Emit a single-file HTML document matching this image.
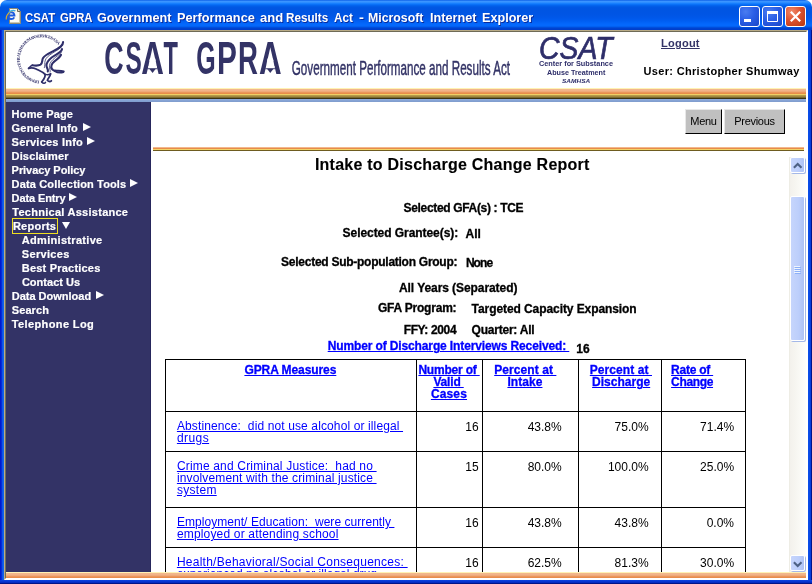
<!DOCTYPE html>
<html lang="en">
<head>
<meta charset="utf-8">
<title>CSAT GPRA Government Performance and Results Act - Microsoft Internet Explorer</title>
<style>
html,body{margin:0;padding:0;}
body{width:812px;height:584px;overflow:hidden;background:#0046e0;font-family:"Liberation Sans",sans-serif;}
#win{position:absolute;left:0;top:0;width:812px;height:584px;overflow:hidden;
  background:#0a4fe6;}
.abs{position:absolute;}
/* ---------- window frame ---------- */
#titlebar{left:0;top:0;width:812px;height:30px;border-radius:7px 7px 0 0;
  background:linear-gradient(to bottom,#0050e0 0,#3a94ff 1px,#3a94ff 2px,#1f86ff 3px,#0f78fc 4px,#0468f2 5px,#0260ea 6px,#0058e4 7px,#0055e2 9px,#0055e4 14px,#0058ea 18px,#005ef2 21px,#0468fc 24px,#0468fc 26px,#0058e6 27px,#0044d2 28px,#003cc8 30px);}
#frameL{left:0;top:30px;width:4px;height:554px;background:linear-gradient(to right,#0019cf 0,#0019cf 1px,#0a3fe0 2px,#1468ee 3px,#0f5be6 4px);}
#frameR{left:808px;top:30px;width:4px;height:554px;background:linear-gradient(to right,#0a50ea 0,#0848e4 1.5px,#053ad6 3px,#00148c 3px,#00148c 4px);}
#frameB{z-index:2;left:0;top:580px;width:812px;height:4px;background:linear-gradient(to bottom,#0a44e2 0,#0636d2 1.5px,#0326ba 3px,#001488 3px,#001488 4px);}
#cornerL{left:0;top:0;width:8px;height:8px;background:#fff;}
#cornerR{left:804px;top:0;width:8px;height:8px;background:#fff;}
#ttext{left:0;top:10px;width:600px;height:16px;color:#fff;font-weight:bold;font-size:13.5px;line-height:16px;white-space:nowrap;text-shadow:1px 1px 0 #0a2a9a;}
#ttext span{position:absolute;top:0;transform-origin:0 0;}
.tbtn{top:6px;width:21px;height:21px;box-sizing:border-box;border:1px solid #fff;border-radius:3px;
  background:radial-gradient(circle at 30% 25%,#4a7cf0 0,#2a5ee6 45%,#1a47c8 100%);}
#bclose{background:radial-gradient(circle at 30% 25%,#f08a6a 0,#dd5230 45%,#b8360f 100%);}
/* ---------- client ---------- */
#client{left:4px;top:30px;width:804px;height:550px;background:#fff;box-sizing:border-box;
  border-top:1px solid #b9ab86;border-left:1px solid #b9ab86;border-right:1px solid #fff;border-bottom:1px solid #fff;}
#client2{left:0;top:0;width:802px;height:548px;box-sizing:border-box;
  border-top:1px solid #6f6b57;border-left:1px solid #6f6b57;border-right:1px solid #fff;border-bottom:1px solid #fff;}
#page{left:6px;top:32px;width:800px;height:546px;background:#fff;overflow:hidden;}
/* ---------- page ---------- */
.stripe{height:11px;background:linear-gradient(to bottom,#fff2b4 0,#fff2b4 1px,#f2b88c 1px,#f0b288 3px,#eca06c 4px,#e88c4a 5px,#e88c4a 5.5px,#f2d468 6px,#ecc860 7px,#b49a4a 7.5px,#a0883e 8.5px,#7a6a30 9.5px,#3c3212 10px,#3c3212 11px);}
.stripe2{height:4px;background:linear-gradient(to bottom,#f2b88c 0,#f2b88c 1px,#e88c4a 1px,#e88c4a 2px,#f2d468 2px,#f2d468 3px,#6e5c20 3px,#6e5c20 4px);}
.stripe3{height:6px;background:linear-gradient(to bottom,#fff2b4 0,#fff2b4 1px,#f2b88c 1px,#f0b288 3px,#eca06c 4px,#e88c4a 5px,#e88c4a 6px);}
.ni{position:absolute;color:#fff;font-weight:bold;font-size:11px;line-height:14px;white-space:nowrap;-webkit-text-stroke:0.2px #fff;}
.ar{position:absolute;width:0;height:0;border-left:8px solid #fff;border-top:4px solid transparent;border-bottom:4px solid transparent;}
.ad{position:absolute;width:0;height:0;border-top:7px solid #fff;border-left:4px solid transparent;border-right:4px solid transparent;}
.rep{position:absolute;border:1px solid #f0e020;}
.btn{height:25px;box-sizing:border-box;background:#c0c0c0;border:1px solid #000;border-top-color:#e8e8e8;border-left-color:#e8e8e8;color:#000;font-size:11px;line-height:23px;text-align:center;letter-spacing:-0.3px;}
.sbb{width:15px;height:16px;box-sizing:border-box;border:1px solid #fff;border-radius:2px;background:linear-gradient(to right,#c6d5fc 0,#bccefb 60%,#aec2f4 100%);box-shadow:1px 1px 0 #a4b8e8;}
.t,.tb{position:absolute;white-space:pre;color:#000;}
.tb{font-weight:bold;-webkit-text-stroke:0.3px currentColor;}
.u{color:#0000ff;text-decoration:underline;}
.ln{position:absolute;background:#000;}
</style>
</head>
<body>
<div id="win">
  <div id="cornerL" class="abs"></div><div id="cornerR" class="abs"></div>
  <div id="titlebar" class="abs"></div>
  <div id="frameL" class="abs"></div><div id="frameR" class="abs"></div><div id="frameB" class="abs"></div>
  <div id="ttext" class="abs"><!--TT--><span style="left:25.4px;transform:scaleX(0.8448)">CSAT</span> <span style="left:60.0px;transform:scaleX(0.833)">GPRA</span> <span style="left:96.9px;transform:scaleX(0.9355)">Government</span> <span style="left:176.7px;transform:scaleX(0.9425)">Performance</span> <span style="left:259.5px;transform:scaleX(0.966)">and</span> <span style="left:286.0px;transform:scaleX(0.8651)">Results</span> <span style="left:334.2px;transform:scaleX(0.8683)">Act</span> <span style="left:359.2px;transform:scaleX(1.0889)">-</span> <span style="left:368.2px;transform:scaleX(0.9119)">Microsoft</span> <span style="left:429.7px;transform:scaleX(0.9391)">Internet</span> <span style="left:482.2px;transform:scaleX(0.9346)">Explorer</span><!--/TT--></div>
  <svg class="abs" style="left:3px;top:6px" width="20" height="20" viewBox="0 0 20 20">
    <path d="M6.5 2.5h8l3 3v12h-11z" fill="#fbfbf3" stroke="#8c8a78" stroke-width="1"/>
    <path d="M14.5 2.5v3h3" fill="#d8d6c4" stroke="#6c6a5c" stroke-width="1"/>
    <path d="M7 16.5h10M16.5 6v11" stroke="#c9c7b3" stroke-width="1" fill="none"/>
    <path transform="translate(1.6 -1)" d="M3.2 10.6h6.6c0-2-1.2-3.4-3.2-3.4S3.2 8.800 3.200 10.600s1.300 3.500 3.400 3.500c1.500 0 2.500-.7 3-1.800" fill="none" stroke="#1c5ce0" stroke-width="2"/>
    <path transform="translate(1.6 0)" d="M1.600 13.500c-.6-2.600 1.400-6.600 5.400-8.400 1.600-.7 3-.7 3.600-.2" fill="none" stroke="#e8b020" stroke-width="1.100"/>
    <path transform="translate(1.6 0)" d="M4 6.500c2-1.800 5-2.600 6.800-1.600" fill="none" stroke="#38b0e8" stroke-width="1.200"/>
  </svg>
  <div class="abs tbtn" style="left:739px"><svg class="abs" style="left:0;top:0" width="19" height="19" viewBox="0 0 19 19"><rect x="4" y="12" width="7" height="3" fill="#fff"/></svg></div>
  <div class="abs tbtn" style="left:762px"><svg class="abs" style="left:0;top:0" width="19" height="19" viewBox="0 0 19 19"><path d="M4.500 5.500h10v9h-10z" fill="none" stroke="#fff" stroke-width="1"/><rect x="4" y="4" width="11" height="3" fill="#fff"/></svg></div>
  <div class="abs tbtn" id="bclose" style="left:785px"><svg class="abs" style="left:0;top:0" width="19" height="19" viewBox="0 0 19 19"><path d="M4.800 4.800l9.400 9.400M14.200 4.800l-9.400 9.400" stroke="#fff" stroke-width="2.200" fill="none"/></svg></div>
  <div id="client" class="abs"><div id="client2" class="abs"></div></div>
  <div id="page" class="abs">
    <!-- ===== banner frame ===== -->
    <div class="abs" id="banner" style="left:0;top:0;width:800px;height:56px;background:#fff;">
      <svg class="abs" id="hhs" style="left:0;top:0" width="90" height="56" viewBox="0 0 90 56">
        <defs><path id="ring" d="M33.4 48.7 A21.8 21.8 0 1 1 52.6 13.3" fill="none"/></defs>
        <text font-family="Liberation Serif, serif" font-weight="bold" font-size="4.3" fill="#34346c"><textPath href="#ring" textLength="85" lengthAdjust="spacing">DEPARTMENT OF HEALTH &amp; HUMAN SERVICES • USA</textPath></text>
        <g transform="translate(0 -2) scale(0.1109)" fill="none" stroke="#2e2e6a" stroke-width="19" stroke-linecap="round" stroke-linejoin="round">
          <path d="M515 108 C516 144 478 164 430 188 C388 209 347 228 333 254 C322 278 332 298 311 312 C292 324 264 322 238 318"/>
          <path d="M505 172 C500 204 450 218 412 248 C382 272 362 294 365 322 C367 347 384 354 377 374"/>
          <path d="M496 224 C490 252 442 268 418 302 C402 328 404 348 426 362 C446 374 482 360 520 374"/>
          <path stroke-width="7" d="M508 140 C492 170 452 186 420 208 C384 232 358 250 352 280 C348 300 352 320 346 340"/>
          <path stroke-width="7" d="M500 200 C484 226 448 240 424 266 C398 292 388 314 392 340 C394 356 402 366 398 380"/>
          <path stroke-width="14" d="M436 370 C462 386 492 390 518 381"/>
          <path stroke-width="16" d="M204 346 C226 336 248 340 272 352 C302 367 332 378 350 398 C362 422 342 444 322 468"/>
          <path stroke-width="14" d="M238 318 C222 322 214 334 204 346"/>
          <path stroke-width="14" d="M322 468 C336 484 350 484 356 472"/>
          <path stroke-width="16" d="M402 396 C398 422 377 438 373 454 C386 466 400 466 409 458"/>
          <path stroke-width="14" d="M350 398 C370 406 388 404 402 396"/>
        </g>
      </svg>
      <svg class="abs" id="bigtitle" style="left:0;top:0" width="300" height="56" viewBox="0 0 300 56" font-family="Liberation Sans, sans-serif" font-weight="bold" font-size="46.5" fill="#333366"><text transform="translate(98.32 41.8) scale(0.577 1)">C</text><text transform="translate(119.38 41.8) scale(0.525 1)">S</text><g transform="translate(135.23 41.8) scale(0.674 1)"><text>A</text><polygon points="10.3,-6.6 23.3,-6.6 20.8,-15.2 12.8,-15.2" fill="#fff"/><rect x="9.5" y="-5.5" width="14.6" height="0.9"/><polygon points="12,-5 21.600,-5 16.800,-0.9"/></g><text transform="translate(157.4 41.8) scale(0.507 1)">T</text><text transform="translate(190.26 41.8) scale(0.537 1)">G</text><text transform="translate(210.98 41.8) scale(0.641 1)">P</text><text transform="translate(232.12 41.8) scale(0.593 1)">R</text><g transform="translate(252.93 41.8) scale(0.674 1)"><text>A</text><polygon points="10.3,-6.6 23.3,-6.6 20.8,-15.2 12.8,-15.2" fill="#fff"/><rect x="9.5" y="-5.5" width="14.6" height="0.9"/><polygon points="12,-5 21.600,-5 16.800,-0.9"/></g></svg>
      <svg class="abs" id="subtitle" style="left:280px;top:20px" width="240" height="32" viewBox="280 20 240 32"><text x="285.8" y="43.1" font-family="Liberation Sans, sans-serif" font-size="19.5" fill="#333366" stroke="#333366" stroke-width="0.45" textLength="218.2" lengthAdjust="spacingAndGlyphs">Government Performance and Results Act</text></svg>
      <svg class="abs" id="csatlogo" style="left:520px;top:0" width="110" height="56" viewBox="520 0 110 56" font-family="Liberation Sans, sans-serif" fill="#2e2e6a">
        <text x="533" y="26.8" font-size="30.6" font-style="italic" stroke="#2e2e6a" stroke-width="0.7" textLength="73.5" lengthAdjust="spacingAndGlyphs">CSAT</text>
        <text x="533" y="34.2" font-size="7.6" font-weight="bold" textLength="74" lengthAdjust="spacingAndGlyphs">Center for Substance</text>
        <text x="541" y="43" font-size="7.6" font-weight="bold" textLength="58.4" lengthAdjust="spacingAndGlyphs">Abuse Treatment</text>
        <text x="556" y="50.9" font-size="6.2" font-weight="bold" font-style="italic" textLength="28.2" lengthAdjust="spacingAndGlyphs">SAMHSA</text>
      </svg>
      <a class="abs" id="logout" style="left:655px;top:5px;color:#333366;font-weight:bold;font-size:11px;line-height:13px;text-decoration:underline;letter-spacing:0.25px;">Logout</a>
      <div class="abs" id="user" style="left:637.5px;top:33px;color:#000;font-weight:bold;font-size:11px;line-height:13px;white-space:nowrap;letter-spacing:0.33px;">User: Christopher Shumway</div>
    </div>
    <div class="abs stripe" style="left:0;top:56px;width:800px;"></div>
    <div class="abs" style="left:0;top:67px;width:800px;height:3px;background:linear-gradient(#91addd,#86a3d4 50%,#7f9ccd);"></div>
    <!-- ===== nav frame ===== -->
    <div class="abs" id="nav" style="left:0;top:70px;width:145px;height:470px;background:#333366;border-right:1px solid #26265c;box-sizing:border-box;">
      <!--NAV-->
      <div class="ni" style="left:5.6px;top:5px;letter-spacing:0.185px">Home Page</div>
      <div class="ni" style="left:5.6px;top:19px;letter-spacing:0.183px">General Info</div>
      <i class="ar" style="left:76.7px;top:21px"></i>
      <div class="ni" style="left:5.6px;top:33px;letter-spacing:0.226px">Services Info</div>
      <i class="ar" style="left:81.3px;top:35px"></i>
      <div class="ni" style="left:5.6px;top:47px;letter-spacing:0.138px">Disclaimer</div>
      <div class="ni" style="left:5.6px;top:61px;letter-spacing:-0.055px">Privacy Policy</div>
      <div class="ni" style="left:5.6px;top:75px;letter-spacing:0.148px">Data Collection Tools</div>
      <i class="ar" style="left:124.1px;top:77px"></i>
      <div class="ni" style="left:5.6px;top:89px;letter-spacing:-0.115px">Data Entry</div>
      <i class="ar" style="left:63.2px;top:91px"></i>
      <div class="ni" style="left:6.3px;top:103px;letter-spacing:0.265px">Technical Assistance</div>
      <div class="ni" style="left:6.9px;top:117px;letter-spacing:0.256px">Reports</div>
      <i class="ad" style="left:56.3px;top:120px"></i>
      <div class="rep" style="left:6px;top:116px;width:44px;height:14px"></div>
      <div class="ni" style="left:15.8px;top:131px;letter-spacing:0.306px">Administrative</div>
      <div class="ni" style="left:15.8px;top:145px;letter-spacing:0.319px">Services</div>
      <div class="ni" style="left:15.8px;top:159px;letter-spacing:0.206px">Best Practices</div>
      <div class="ni" style="left:15.9px;top:173px;letter-spacing:0.015px">Contact Us</div>
      <div class="ni" style="left:5.7px;top:187px;letter-spacing:0.004px">Data Download</div>
      <i class="ar" style="left:90px;top:189px"></i>
      <div class="ni" style="left:5.7px;top:201px;letter-spacing:0.119px">Search</div>
      <div class="ni" style="left:5.7px;top:215px;letter-spacing:0.391px">Telephone Log</div>
      <!--/NAV-->
    </div>
    <!-- ===== button frame ===== -->
    <div class="abs btn" style="left:679px;top:77px;width:37px;">Menu</div>
    <div class="abs btn" style="left:718px;top:77px;width:61px;">Previous</div>
    <div class="abs stripe2" style="left:147px;top:115px;width:651px;"></div>
    <!-- ===== main frame ===== -->
    <div class="abs" id="main" style="left:145px;top:120px;width:638px;height:420px;overflow:hidden;">
    <!--MAIN-->
    <div class="ln" style="left:14px;top:207px;width:581px;height:1px"></div>
    <div class="ln" style="left:14px;top:259px;width:581px;height:1px"></div>
    <div class="ln" style="left:14px;top:299px;width:581px;height:1px"></div>
    <div class="ln" style="left:14px;top:355px;width:581px;height:1px"></div>
    <div class="ln" style="left:14px;top:395px;width:581px;height:1px"></div>
    <div class="ln" style="left:14px;top:207px;width:1px;height:241px"></div>
    <div class="ln" style="left:265px;top:207px;width:1px;height:241px"></div>
    <div class="ln" style="left:331px;top:207px;width:1px;height:241px"></div>
    <div class="ln" style="left:427px;top:207px;width:1px;height:241px"></div>
    <div class="ln" style="left:510px;top:207px;width:1px;height:241px"></div>
    <div class="ln" style="left:594px;top:207px;width:1px;height:241px"></div>
    <div class="tb" style="left:163.9px;top:3px;font-size:16px;line-height:20px;letter-spacing:0.243px;-webkit-text-stroke:0.12px #000;">Intake to Discharge Change Report</div>
    <div class="tb" style="left:252.6px;top:49px;font-size:12px;line-height:14px;letter-spacing:-0.335px;">Selected GFA(s) : TCE</div>
    <div class="tb" style="left:191.6px;top:74px;font-size:12px;line-height:14px;letter-spacing:-0.059px;">Selected Grantee(s):</div>
    <div class="tb" style="left:314.6px;top:75px;font-size:12px;line-height:14px;letter-spacing:0px;">All</div>
    <div class="tb" style="left:130.1px;top:103px;font-size:12px;line-height:14px;letter-spacing:-0.262px;">Selected Sub-population Group:</div>
    <div class="tb" style="left:314.9px;top:104px;font-size:12px;line-height:14px;letter-spacing:-0.933px;">None</div>
    <div class="tb" style="left:248.0px;top:129px;font-size:12px;line-height:14px;letter-spacing:-0.072px;">All Years (Separated)</div>
    <div class="tb" style="left:227.0px;top:149px;font-size:12px;line-height:14px;letter-spacing:-0.21px;">GFA Program:</div>
    <div class="tb" style="left:320.6px;top:150px;font-size:12px;line-height:14px;letter-spacing:-0.079px;">Targeted Capacity Expansion</div>
    <div class="tb" style="left:252.7px;top:171px;font-size:12px;line-height:14px;letter-spacing:-0.364px;">FFY: 2004</div>
    <div class="tb" style="left:320.6px;top:171px;font-size:12px;line-height:14px;letter-spacing:-0.225px;">Quarter: All</div>
    <a class="tb u" style="left:176.7px;top:187px;font-size:12px;line-height:14px;letter-spacing:-0.126px;">Number of Discharge Interviews Received:&nbsp;</a>
    <div class="tb" style="left:425.3px;top:190px;font-size:12px;line-height:14px;letter-spacing:0px;">16</div>
    <a class="tb u" style="left:93.4px;top:212px;font-size:12px;line-height:12px;letter-spacing:-0.078px;">GPRA Measures</a>
    <a class="tb u" style="left:267.4px;top:212px;font-size:12px;line-height:12px;letter-spacing:-0.205px;">Number of&nbsp;</a>
    <a class="tb u" style="left:282.4px;top:224px;font-size:12px;line-height:12px;letter-spacing:-0.172px;">Valid&nbsp;</a>
    <a class="tb u" style="left:279.9px;top:236px;font-size:12px;line-height:12px;letter-spacing:0.156px;">Cases</a>
    <a class="tb u" style="left:343.2px;top:212px;font-size:12px;line-height:12px;letter-spacing:0.074px;">Percent at&nbsp;</a>
    <a class="tb u" style="left:356.4px;top:224px;font-size:12px;line-height:12px;letter-spacing:0.062px;">Intake</a>
    <a class="tb u" style="left:438.8px;top:212px;font-size:12px;line-height:12px;letter-spacing:0.074px;">Percent at&nbsp;</a>
    <a class="tb u" style="left:441.1px;top:224px;font-size:12px;line-height:12px;letter-spacing:0.009px;">Discharge</a>
    <a class="tb u" style="left:520.1px;top:212px;font-size:12px;line-height:12px;letter-spacing:-0.245px;">Rate of&nbsp;</a>
    <a class="tb u" style="left:520.1px;top:224px;font-size:12px;line-height:12px;letter-spacing:-0.343px;">Change</a>
    <a class="t u" style="left:25.9px;top:268px;font-size:12px;line-height:12px;letter-spacing:0.121px;">Abstinence:&nbsp; did not use alcohol or illegal&nbsp;</a>
    <a class="t u" style="left:25.9px;top:280px;font-size:12px;line-height:12px;letter-spacing:0.442px;">drugs</a>
    <a class="t u" style="left:25.9px;top:308px;font-size:12px;line-height:12px;letter-spacing:0.174px;">Crime and Criminal Justice:&nbsp; had no&nbsp;</a>
    <a class="t u" style="left:25.9px;top:320px;font-size:12px;line-height:12px;letter-spacing:0.147px;">involvement with the criminal justice&nbsp;</a>
    <a class="t u" style="left:25.9px;top:332px;font-size:12px;line-height:12px;letter-spacing:0.297px;">system</a>
    <a class="t u" style="left:25.9px;top:364px;font-size:12px;line-height:12px;letter-spacing:0.054px;">Employment/ Education:&nbsp; were currently&nbsp;</a>
    <a class="t u" style="left:25.9px;top:376px;font-size:12px;line-height:12px;letter-spacing:0.175px;">employed or attending school</a>
    <a class="t u" style="left:25.9px;top:404px;font-size:12px;line-height:12px;letter-spacing:0.255px;">Health/Behavioral/Social Consequences:&nbsp;</a>
    <a class="t u" style="left:25.9px;top:416px;font-size:12px;line-height:12px;letter-spacing:0.036px;">experienced no alcohol or illegal drug&nbsp;</a>
    <div class="t" style="left:314.3px;top:268px;font-size:12px;line-height:14px;">16</div>
    <div class="t" style="left:376.7px;top:268px;font-size:12px;line-height:14px;">43.8%</div>
    <div class="t" style="left:463.6px;top:268px;font-size:12px;line-height:14px;">75.0%</div>
    <div class="t" style="left:549.1px;top:268px;font-size:12px;line-height:14px;">71.4%</div>
    <div class="t" style="left:314.3px;top:308px;font-size:12px;line-height:14px;">15</div>
    <div class="t" style="left:376.7px;top:308px;font-size:12px;line-height:14px;">80.0%</div>
    <div class="t" style="left:456.9px;top:308px;font-size:12px;line-height:14px;">100.0%</div>
    <div class="t" style="left:549.1px;top:308px;font-size:12px;line-height:14px;">25.0%</div>
    <div class="t" style="left:314.3px;top:364px;font-size:12px;line-height:14px;">16</div>
    <div class="t" style="left:376.7px;top:364px;font-size:12px;line-height:14px;">43.8%</div>
    <div class="t" style="left:463.6px;top:364px;font-size:12px;line-height:14px;">43.8%</div>
    <div class="t" style="left:555.7px;top:364px;font-size:12px;line-height:14px;">0.0%</div>
    <div class="t" style="left:314.3px;top:404px;font-size:12px;line-height:14px;">16</div>
    <div class="t" style="left:376.7px;top:404px;font-size:12px;line-height:14px;">62.5%</div>
    <div class="t" style="left:463.6px;top:404px;font-size:12px;line-height:14px;">81.3%</div>
    <div class="t" style="left:549.1px;top:404px;font-size:12px;line-height:14px;">30.0%</div>
    <!--/MAIN-->
    </div>
    <!-- scrollbar -->
    <div class="abs" id="sb" style="left:783px;top:125px;width:17px;height:415px;background:linear-gradient(to right,#f3f1ec 0,#f6f5f0 30%,#fefefb 100%);border-left:1px solid #eeede5;box-sizing:border-box;">
      <div class="abs sbb" style="left:0px;top:0px;"><svg width="16" height="16" viewBox="0 0 16 16"><path d="M2.9 9.7 L6.700 5.9 L10.500 9.7" fill="none" stroke="#4d6185" stroke-width="2.1"/></svg></div>
      <div class="abs sbb" style="left:0px;top:39px;height:145px;"><svg class="abs" style="left:3px;top:69px" width="8" height="8" viewBox="0 0 8 8"><path d="M0 .5h6M0 2.5h6M0 4.5h6M0 6.5h6" stroke="#eef4fe" stroke-width="1"/><path d="M1 1.5h6M1 3.5h6M1 5.5h6M1 7.5h6" stroke="#8cb0f8" stroke-width="1"/></svg></div>
      <div class="abs sbb" style="left:0px;top:398px;"><svg width="16" height="16" viewBox="0 0 16 16"><path d="M2.9 6.3 L6.700 10.1 L10.500 6.3" fill="none" stroke="#4d6185" stroke-width="2.1"/></svg></div>
    </div>
    <!-- bottom stripe -->
    <div class="abs stripe3" style="left:0;top:540px;width:800px;"></div>
  </div>
</div>
</body>
</html>
